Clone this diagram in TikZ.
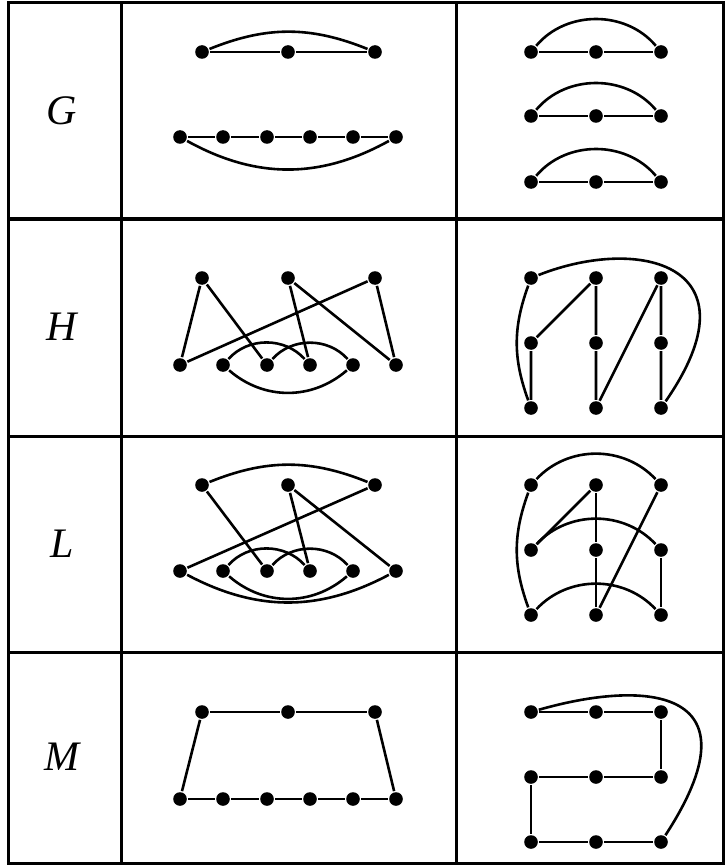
\documentclass[tikz,border=0pt]{standalone}
\usepackage{fontspec}
\setmainfont{Liberation Serif}
\usepackage{tikz}

\begin{document}
\begin{tikzpicture}[
    x=0.5pt, y=0.5pt,
    line width=1.3pt,
    vertex/.style={circle, fill=black, inner sep=0pt, minimum size=6.8pt},
    frame/.style={line width=1.5pt, line cap=rect},
    rowlabel/.style={font=\fontsize{21}{24}\selectfont\itshape}
  ]
  \useasboundingbox (0,0) rectangle (725,-866);

  % table
  \draw[frame] (8,-3) rectangle (723,-863);
  \draw[frame] (121,-3) -- (121,-860);
  \draw[frame] (456,-3) -- (456,-863);
  \draw[frame] (8,-219) -- (723,-219);
  \draw[frame] (8,-436) -- (723,-436);
  \draw[frame] (8,-652) -- (723,-652);

  \node[rowlabel] (labG) at (62,-111) {G};
  \node[rowlabel] (labH) at (62,-327) {H};
  \node[rowlabel] (labL) at (62,-544) {L};
  \node[rowlabel] (labM) at (62,-757) {M};

  % row G
  \node[vertex] (gt1) at (202,-52) {};
  \node[vertex] (gt2) at (288,-52) {};
  \node[vertex] (gt3) at (375,-52) {};
  \node[vertex] (gb1) at (180,-137) {};
  \node[vertex] (gb2) at (223,-137) {};
  \node[vertex] (gb3) at (267,-137) {};
  \node[vertex] (gb4) at (310,-137) {};
  \node[vertex] (gb5) at (353,-137) {};
  \node[vertex] (gb6) at (396,-137) {};

  \draw (gt1) -- (gt2) -- (gt3);
  \draw (gt1) to[bend left=22] (gt3);
  \draw (gb1) -- (gb2) -- (gb3) -- (gb4) -- (gb5) -- (gb6);
  \draw (gb1) to[bend right=29] (gb6);

  \node[vertex] (gr11) at (531,-52) {};
  \node[vertex] (gr12) at (596,-52) {};
  \node[vertex] (gr13) at (661,-52) {};
  \node[vertex] (gr21) at (531,-116) {};
  \node[vertex] (gr22) at (596,-116) {};
  \node[vertex] (gr23) at (661,-116) {};
  \node[vertex] (gr31) at (531,-182) {};
  \node[vertex] (gr32) at (596,-182) {};
  \node[vertex] (gr33) at (661,-182) {};

  \draw (gr11) -- (gr12) -- (gr13);
  \draw (gr11) to[bend left=50] (gr13);
  \draw (gr21) -- (gr22) -- (gr23);
  \draw (gr21) to[bend left=50] (gr23);
  \draw (gr31) -- (gr32) -- (gr33);
  \draw (gr31) to[bend left=50] (gr33);

  % row H
  \node[vertex] (ht1) at (202,-278) {};
  \node[vertex] (ht2) at (288,-278) {};
  \node[vertex] (ht3) at (375,-278) {};
  \node[vertex] (hb1) at (180,-365) {};
  \node[vertex] (hb2) at (223,-365) {};
  \node[vertex] (hb3) at (267,-365) {};
  \node[vertex] (hb4) at (310,-365) {};
  \node[vertex] (hb5) at (353,-365) {};
  \node[vertex] (hb6) at (396,-365) {};

  \draw (ht1) -- (hb1);
  \draw (ht1) -- (hb3);
  \draw (ht3) -- (hb1);
  \draw (ht2) -- (hb4);
  \draw (ht2) -- (hb6);
  \draw (ht3) -- (hb6);
  \draw (hb2) to[bend left=48] (hb4);
  \draw (hb3) to[bend left=48] (hb5);
  \draw (hb2) to[bend right=41] (hb5);

  \node[vertex] (hr11) at (531,-278) {};
  \node[vertex] (hr12) at (596,-278) {};
  \node[vertex] (hr13) at (661,-278) {};
  \node[vertex] (hr21) at (531,-343) {};
  \node[vertex] (hr22) at (596,-343) {};
  \node[vertex] (hr23) at (661,-343) {};
  \node[vertex] (hr31) at (531,-408) {};
  \node[vertex] (hr32) at (596,-408) {};
  \node[vertex] (hr33) at (661,-408) {};

  \draw (hr11) to[bend right=20] (hr31);
  \draw (hr11) .. controls (640,-235) and (760,-265) .. (hr33);
  \draw (hr12) -- (hr21) -- (hr31);
  \draw (hr12) -- (hr22) -- (hr32) -- (hr13) -- (hr23) -- (hr33);

  % row L
  \node[vertex] (lt1) at (202,-485) {};
  \node[vertex] (lt2) at (288,-485) {};
  \node[vertex] (lt3) at (375,-485) {};
  \node[vertex] (lb1) at (180,-571) {};
  \node[vertex] (lb2) at (223,-571) {};
  \node[vertex] (lb3) at (267,-571) {};
  \node[vertex] (lb4) at (310,-571) {};
  \node[vertex] (lb5) at (353,-571) {};
  \node[vertex] (lb6) at (396,-571) {};

  \draw (lt1) to[bend left=22] (lt3);
  \draw (lt1) -- (lb3);
  \draw (lt2) -- (lb4);
  \draw (lt2) -- (lb6);
  \draw (lt3) -- (lb1);
  \draw (lb2) to[bend left=48] (lb4);
  \draw (lb3) to[bend left=48] (lb5);
  \draw (lb2) to[bend right=41] (lb5);
  \draw (lb1) to[bend right=28] (lb6);

  \node[vertex] (lr11) at (531,-485) {};
  \node[vertex] (lr12) at (596,-485) {};
  \node[vertex] (lr13) at (661,-485) {};
  \node[vertex] (lr21) at (531,-550) {};
  \node[vertex] (lr22) at (596,-550) {};
  \node[vertex] (lr23) at (661,-550) {};
  \node[vertex] (lr31) at (531,-615) {};
  \node[vertex] (lr32) at (596,-615) {};
  \node[vertex] (lr33) at (661,-615) {};

  \draw (lr11) to[bend left=47] (lr13);
  \draw (lr11) to[bend right=20] (lr31);
  \draw (lr12) -- (lr21);
  \draw (lr12) -- (lr22) -- (lr32);
  \draw (lr21) to[bend left=47] (lr23);
  \draw (lr13) -- (lr32);
  \draw (lr23) -- (lr33);
  \draw (lr31) to[bend left=47] (lr33);

  % row M
  \node[vertex] (mt1) at (202,-712) {};
  \node[vertex] (mt2) at (288,-712) {};
  \node[vertex] (mt3) at (375,-712) {};
  \node[vertex] (mb1) at (180,-799) {};
  \node[vertex] (mb2) at (223,-799) {};
  \node[vertex] (mb3) at (267,-799) {};
  \node[vertex] (mb4) at (310,-799) {};
  \node[vertex] (mb5) at (353,-799) {};
  \node[vertex] (mb6) at (396,-799) {};

  \draw (mt1) -- (mt2) -- (mt3);
  \draw (mt1) -- (mb1);
  \draw (mt3) -- (mb6);
  \draw (mb1) -- (mb2) -- (mb3) -- (mb4) -- (mb5) -- (mb6);

  \node[vertex] (mr11) at (531,-712) {};
  \node[vertex] (mr12) at (596,-712) {};
  \node[vertex] (mr13) at (661,-712) {};
  \node[vertex] (mr21) at (531,-777) {};
  \node[vertex] (mr22) at (596,-777) {};
  \node[vertex] (mr23) at (661,-777) {};
  \node[vertex] (mr31) at (531,-842) {};
  \node[vertex] (mr32) at (596,-842) {};
  \node[vertex] (mr33) at (661,-842) {};

  \draw (mr11) -- (mr12) -- (mr13) -- (mr23);
  \draw (mr21) -- (mr22) -- (mr23);
  \draw (mr21) -- (mr31) -- (mr32) -- (mr33);
  \draw (mr11) .. controls (650,-678) and (760,-690) .. (mr33);

\end{tikzpicture}
\end{document}
